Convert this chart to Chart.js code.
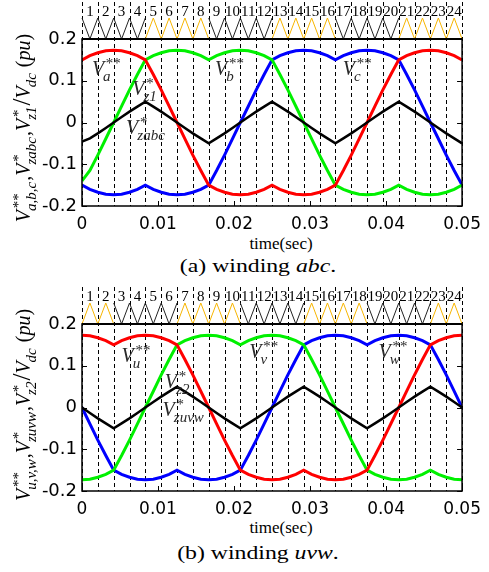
<!DOCTYPE html>
<html>
<head>
<meta charset="utf-8">
<script src="https://cdn.jsdelivr.net/npm/chart.js@4.4.0/dist/chart.umd.min.js"></script>
<style>
  body { margin: 0; background: #fff; width: 489px; height: 572px; position: relative; overflow: hidden; }
  .panel { position: absolute; left: 0; width: 489px; height: 232px; }
  .txt { position: absolute; white-space: nowrap; font-family: "Liberation Serif", serif; color: #000; line-height: 1; }
  .xlab { font-size: 17px; transform: translateX(-50%); }
  .cap { font-size: 19px; transform: translateX(-50%) scaleX(1.25); }
</style>
</head>
<body>
<div class="panel" style="top:0"><canvas id="abc" width="489" height="232"></canvas></div>
<div class="txt xlab" style="left:281px;top:235px">time(sec)</div>
<div class="txt cap" style="left:258px;top:256px">(a) winding <i>abc</i>.</div>
<div class="panel" style="top:285px"><canvas id="uvw" width="489" height="232"></canvas></div>
<div class="txt xlab" style="left:281px;top:519px">time(sec)</div>
<div class="txt cap" style="left:258px;top:543px">(b) winding <i>uvw</i>.</div>

<script>
// sample instants, one per half carrier period (s)
const time = [
  0, 0.00104, 0.00208, 0.00313, 0.00417, 0.00521, 0.00625, 0.00729,
  0.00833, 0.00938, 0.01042, 0.01146, 0.0125, 0.01354, 0.01458, 0.01563,
  0.01667, 0.01771, 0.01875, 0.01979, 0.02083, 0.02188, 0.02292, 0.02396,
  0.025, 0.02604, 0.02708, 0.02813, 0.02917, 0.03021, 0.03125, 0.03229,
  0.03333, 0.03438, 0.03542, 0.03646, 0.0375, 0.03854, 0.03958, 0.04063,
  0.04167, 0.04271, 0.04375, 0.04479, 0.04583, 0.04688, 0.04792, 0.04896,
  0.05
]

// winding abc, modulating signals (pu)
const vaRef = [
  0.150, 0.160, 0.167, 0.172, 0.173, 0.172, 0.167, 0.160,
  0.150, 0.115, 0.078, 0.039, 0.000, -0.039, -0.078, -0.115,
  -0.150, -0.160, -0.167, -0.172, -0.173, -0.172, -0.167, -0.160,
  -0.150, -0.160, -0.167, -0.172, -0.173, -0.172, -0.167, -0.160,
  -0.150, -0.115, -0.078, -0.039, 0.000, 0.039, 0.078, 0.115,
  0.150, 0.160, 0.167, 0.172, 0.173, 0.172, 0.167, 0.160,
  0.150
]
const vbRef = [
  -0.140, -0.115, -0.078, -0.039, 0.000, 0.039, 0.078, 0.115,
  0.150, 0.160, 0.167, 0.172, 0.173, 0.172, 0.167, 0.160,
  0.150, 0.160, 0.167, 0.172, 0.173, 0.172, 0.167, 0.160,
  0.150, 0.115, 0.078, 0.039, 0.000, -0.039, -0.078, -0.115,
  -0.150, -0.160, -0.167, -0.172, -0.173, -0.172, -0.167, -0.160,
  -0.150, -0.160, -0.167, -0.172, -0.173, -0.172, -0.167, -0.160,
  -0.150
]
const vcRef = [
  -0.150, -0.160, -0.167, -0.172, -0.173, -0.172, -0.167, -0.160,
  -0.150, -0.160, -0.167, -0.172, -0.173, -0.172, -0.167, -0.160,
  -0.150, -0.115, -0.078, -0.039, 0.000, 0.039, 0.078, 0.115,
  0.150, 0.160, 0.167, 0.172, 0.173, 0.172, 0.167, 0.160,
  0.150, 0.160, 0.167, 0.172, 0.173, 0.172, 0.167, 0.160,
  0.150, 0.115, 0.078, 0.039, 0.000, -0.039, -0.078, -0.115,
  -0.150
]
const vzAbc = [
  -0.046, -0.038, -0.026, -0.013, 0.000, 0.013, 0.026, 0.038,
  0.050, 0.038, 0.026, 0.013, 0.000, -0.013, -0.026, -0.038,
  -0.050, -0.038, -0.026, -0.013, 0.000, 0.013, 0.026, 0.038,
  0.050, 0.038, 0.026, 0.013, 0.000, -0.013, -0.026, -0.038,
  -0.050, -0.038, -0.026, -0.013, 0.000, 0.013, 0.026, 0.038,
  0.050, 0.038, 0.026, 0.013, 0.000, -0.013, -0.026, -0.038,
  -0.050
]

// winding uvw
const vuRef = [
  0.173, 0.172, 0.167, 0.160, 0.150, 0.160, 0.167, 0.172,
  0.173, 0.172, 0.167, 0.160, 0.150, 0.115, 0.078, 0.039,
  0.000, -0.039, -0.078, -0.115, -0.150, -0.160, -0.167, -0.172,
  -0.173, -0.172, -0.167, -0.160, -0.150, -0.160, -0.167, -0.172,
  -0.173, -0.172, -0.167, -0.160, -0.150, -0.115, -0.078, -0.039,
  0.000, 0.039, 0.078, 0.115, 0.150, 0.160, 0.167, 0.172,
  0.173
]
const vvRef = [
  -0.173, -0.172, -0.167, -0.160, -0.150, -0.115, -0.078, -0.039,
  0.000, 0.039, 0.078, 0.115, 0.150, 0.160, 0.167, 0.172,
  0.173, 0.172, 0.167, 0.160, 0.150, 0.160, 0.167, 0.172,
  0.173, 0.172, 0.167, 0.160, 0.150, 0.115, 0.078, 0.039,
  0.000, -0.039, -0.078, -0.115, -0.150, -0.160, -0.167, -0.172,
  -0.173, -0.172, -0.167, -0.160, -0.150, -0.160, -0.167, -0.172,
  -0.173
]
const vwRef = [
  0.000, -0.039, -0.078, -0.115, -0.150, -0.160, -0.167, -0.172,
  -0.173, -0.172, -0.167, -0.160, -0.150, -0.160, -0.167, -0.172,
  -0.173, -0.172, -0.167, -0.160, -0.150, -0.115, -0.078, -0.039,
  0.000, 0.039, 0.078, 0.115, 0.150, 0.160, 0.167, 0.172,
  0.173, 0.172, 0.167, 0.160, 0.150, 0.160, 0.167, 0.172,
  0.173, 0.172, 0.167, 0.160, 0.150, 0.115, 0.078, 0.039,
  0.000
]
const vzUvw = [
  0.000, -0.013, -0.026, -0.038, -0.050, -0.038, -0.026, -0.013,
  0.000, 0.013, 0.026, 0.038, 0.050, 0.038, 0.026, 0.013,
  0.000, -0.013, -0.026, -0.038, -0.050, -0.038, -0.026, -0.013,
  0.000, 0.013, 0.026, 0.038, 0.050, 0.038, 0.026, 0.013,
  0.000, -0.013, -0.026, -0.038, -0.050, -0.038, -0.026, -0.013,
  0.000, 0.013, 0.026, 0.038, 0.050, 0.038, 0.026, 0.013,
  0.000
]

// carrier strips, 1 = top of triangle, null = other carrier active
const n = null
const carrierAbcDark = [
  1, 0, 1, 0, 1, 0, 1, 0,
  1, n, n, n, n, n, n, n,
  1, 0, 1, 0, 1, 0, 1, 0,
  1, n, n, n, n, n, n, n,
  1, 0, 1, 0, 1, 0, 1, 0,
  1, n, n, n, n, n, n, n,
  n
]
const carrierAbcGold = [
  n, n, n, n, n, n, n, n,
  0, 1, 0, 1, 0, 1, 0, 1,
  0, n, n, n, n, n, n, n,
  0, 1, 0, 1, 0, 1, 0, 1,
  0, n, n, n, n, n, n, n,
  0, 1, 0, 1, 0, 1, 0, 1,
  0
]
const carrierUvwDark = [
  n, n, n, n, 1, 0, 1, 0,
  1, 0, 1, 0, 1, n, n, n,
  n, n, n, n, 1, 0, 1, 0,
  1, 0, 1, 0, 1, n, n, n,
  n, n, n, n, 1, 0, 1, 0,
  1, 0, 1, 0, 1, n, n, n,
  n
]
const carrierUvwGold = [
  0, 1, 0, 1, 0, n, n, n,
  n, n, n, n, 0, 1, 0, 1,
  0, 1, 0, 1, 0, n, n, n,
  n, n, n, n, 0, 1, 0, 1,
  0, 1, 0, 1, 0, n, n, n,
  n, n, n, n, 0, 1, 0, 1,
  0
]

const segmentLabels = ['1', '2', '3', '4', '5', '6', '7', '8', '9', '10', '11', '12',
  '13', '14', '15', '16', '17', '18', '19', '20', '21', '22', '23', '24']
const xTickValues = [0, 0.01, 0.02, 0.03, 0.04, 0.05]
const xTickLabels = ['0', '0.01', '0.02', '0.03', '0.04', '0.05']
const yTickValues = [-0.2, -0.1, 0, 0.1, 0.2]
const yTickLabels = ['-0.2', '-0.1', '0', '0.1', '0.2']

const RED = '#ff0000'
const GREEN = '#00f000'
const BLUE = '#0000ff'
const GOLD = '#f7b500'
const SERIF = '"Liberation Serif", "Times New Roman", serif'

// italic text with stacked super/subscripts; returns the advance width
function drawRich(ctx, runs, x0, y0, size, draw = true) {
  const small = Math.round(size * 0.74)
  let x = x0
  for (const r of runs) {
    if (r.t != null) {
      const s = r.big ? size * 1.25 : size
      ctx.font = `${r.up ? '' : 'italic '}${s}px ${SERIF}`
      if (draw) ctx.fillText(r.t, x, y0)
      x += ctx.measureText(r.t).width
    } else {
      ctx.font = `italic ${small}px ${SERIF}`
      let w = 0
      if (r.sup) {
        if (draw) ctx.fillText(r.sup, x + 1, y0 - size * 0.36)
        w = Math.max(w, ctx.measureText(r.sup).width + 1)
      }
      if (r.sub) {
        if (draw) ctx.fillText(r.sub, x - 1, y0 + size * 0.3)
        w = Math.max(w, ctx.measureText(r.sub).width - 1)
      }
      x += w + 1
    }
  }
  return x - x0
}

const stripPlugin = {
  id: 'strip',
  beforeDatasetsDraw(chart) {
    const { ctx, chartArea: a, scales: { x } } = chart
    ctx.save()
    ctx.strokeStyle = '#000'
    ctx.lineWidth = 1
    ctx.setLineDash([4, 3])
    time.forEach((t, i) => {
      if (i % 2) return
      const px = Math.round(x.getPixelForValue(t)) + 0.5
      ctx.beginPath()
      ctx.moveTo(px, a.top - 37)
      ctx.lineTo(px, a.bottom)
      ctx.stroke()
    })
    ctx.restore()
  },
  afterDatasetsDraw(chart, args, opts) {
    const { ctx, chartArea: a, scales: { x, y } } = chart
    ctx.save()
    ctx.strokeStyle = '#000'
    ctx.setLineDash([])
    ctx.lineWidth = 1.5
    ctx.strokeRect(a.left, a.top, a.right - a.left, a.bottom - a.top)
    ctx.lineWidth = 2
    ctx.beginPath()
    ctx.moveTo(a.left, a.top)
    ctx.lineTo(a.right, a.top)
    ctx.stroke()

    // inward ticks
    ctx.lineWidth = 1
    yTickValues.forEach(v => {
      const py = Math.round(y.getPixelForValue(v)) + 0.5
      ctx.beginPath()
      ctx.moveTo(a.left, py); ctx.lineTo(a.left + 5, py)
      ctx.moveTo(a.right - 5, py); ctx.lineTo(a.right, py)
      ctx.stroke()
    })
    xTickValues.forEach(t => {
      const px = Math.round(x.getPixelForValue(t)) + 0.5
      ctx.beginPath()
      ctx.moveTo(px, a.bottom); ctx.lineTo(px, a.bottom - 5)
      ctx.stroke()
    })

    // carrier segment numbers
    ctx.fillStyle = '#000'
    ctx.font = `15px ${SERIF}`
    ctx.textAlign = 'center'
    ctx.textBaseline = 'middle'
    segmentLabels.forEach((lbl, i) => {
      ctx.fillText(lbl, x.getPixelForValue(time[2 * i + 1]), a.top - 27)
    })

    // curve labels
    ctx.textAlign = 'left'
    ctx.textBaseline = 'alphabetic'
    ctx.fillStyle = '#2a2a2a'
    opts.notes.forEach(nt => {
      drawRich(ctx, nt.runs, x.getPixelForValue(nt.t), y.getPixelForValue(nt.v), 20)
    })

    // rotated axis title
    ctx.fillStyle = '#000'
    ctx.translate(opts.titleX, opts.titleY)
    ctx.rotate(-Math.PI / 2)
    const w = drawRich(ctx, opts.title, 0, 0, 20, false)
    drawRich(ctx, opts.title, -w / 2, 6, 20)
    ctx.restore()
  }
}

function line(values, color, width) {
  return {
    data: time.map((t, i) => ({ x: t, y: values[i] })),
    borderColor: color,
    borderWidth: width,
    pointRadius: 0,
    tension: 0,
    yAxisID: 'y'
  }
}

function carrier(values, color) {
  return {
    data: time.map((t, i) => ({ x: t, y: values[i] })),
    borderColor: color,
    borderWidth: 1,
    pointRadius: 0,
    tension: 0,
    clip: false,
    yAxisID: 'yc'
  }
}

function buildChart(id, datasets, strip) {
  const tickFont = { family: '"DejaVu Sans", sans-serif', size: 18 }
  return new Chart(document.getElementById(id), {
    type: 'line',
    data: { datasets },
    options: {
      responsive: false,
      animation: false,
      events: [],
      layout: { padding: { top: 39, right: 20, left: 0, bottom: 0 } },
      plugins: { legend: { display: false }, tooltip: { enabled: false }, strip },
      scales: {
        x: {
          type: 'linear',
          min: 0,
          max: 0.05,
          afterBuildTicks: s => { s.ticks = xTickValues.map(value => ({ value })) },
          afterFit: s => { s.height = 26 },
          ticks: { callback: (v, i) => xTickLabels[i], font: { family: '"DejaVu Sans", sans-serif', size: 17 }, color: '#000', padding: 8, maxRotation: 0, autoSkip: false },
          grid: { display: false, drawTicks: false },
          border: { display: false }
        },
        y: {
          min: -0.2,
          max: 0.2,
          afterBuildTicks: s => { s.ticks = yTickValues.map(value => ({ value })) },
          afterFit: s => { s.width = 82 },
          ticks: { callback: (v, i) => yTickLabels[i], font: tickFont, color: '#000', padding: 5 },
          grid: { display: false, drawTicks: false },
          border: { display: false }
        },
        // carrier strip sits 21px above the plot box
        yc: { display: false, min: -7.95, max: 0 }
      }
    },
    plugins: [stripPlugin]
  })
}

const V = { t: 'V' }

buildChart('abc', [
  line(vzAbc, '#000', 2.5),
  line(vaRef, RED, 3),
  line(vbRef, GREEN, 3),
  line(vcRef, BLUE, 3),
  carrier(carrierAbcDark, '#222'),
  carrier(carrierAbcGold, GOLD)
], {
  titleX: 24,
  titleY: 128,
  title: [V, { sup: '**', sub: 'a,b,c' }, { t: ',' }, V, { sup: '*', sub: 'zabc' }, { t: ',' }, V, { sup: '*', sub: 'z1' },
    { t: '/', up: true, big: true }, V, { sub: 'dc' }, { t: ' (', up: true }, { t: 'pu' }, { t: ')', up: true }],
  notes: [
    { t: 0.0013, v: 0.113, runs: [V, { sup: '**', sub: 'a' }] },
    { t: 0.0066, v: 0.066, runs: [V, { sup: '*', sub: 'z1' }] },
    { t: 0.0058, v: -0.028, runs: [V, { sup: '*', sub: 'zabc' }] },
    { t: 0.0175, v: 0.114, runs: [V, { sup: '**', sub: 'b' }] },
    { t: 0.0343, v: 0.114, runs: [V, { sup: '**', sub: 'c' }] }
  ]
})

buildChart('uvw', [
  line(vzUvw, '#000', 2.5),
  line(vuRef, RED, 3),
  line(vvRef, GREEN, 3),
  line(vwRef, BLUE, 3),
  carrier(carrierUvwDark, '#222'),
  carrier(carrierUvwGold, GOLD)
], {
  titleX: 24,
  titleY: 120,
  title: [V, { sup: '**', sub: 'u,v,w' }, { t: ',' }, V, { sup: '*', sub: 'zuvw' }, { t: ',' }, V, { sup: '*', sub: 'z2' },
    { t: '/', up: true, big: true }, V, { sub: 'dc' }, { t: ' (', up: true }, { t: 'pu' }, { t: ')', up: true }],
  notes: [
    { t: 0.0052, v: 0.109, runs: [V, { sup: '**', sub: 'u' }] },
    { t: 0.0109, v: 0.047, runs: [V, { sup: '*', sub: 'z2' }] },
    { t: 0.0106, v: -0.02, runs: [V, { sup: '*', sub: 'zuvw' }] },
    { t: 0.022, v: 0.119, runs: [V, { sup: '**', sub: 'v' }] },
    { t: 0.039, v: 0.119, runs: [V, { sup: '**', sub: 'w' }] }
  ]
})
</script>
</body>
</html>
